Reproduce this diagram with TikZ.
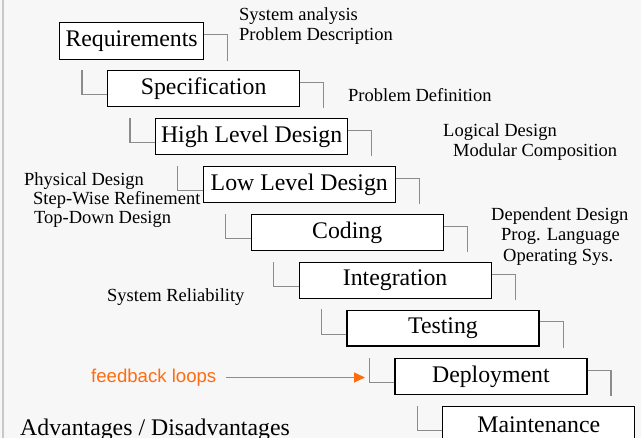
\documentclass[tikz,border=0pt]{standalone}
\usepackage{fontspec}
\setmainfont{Liberation Serif}
\newfontfamily\arialf{Liberation Sans}
\usetikzlibrary{arrows.meta}
\definecolor{bgc}{RGB}{247,247,247}
\definecolor{conngray}{RGB}{140,140,140}
\definecolor{fbor}{RGB}{255,108,16}
\definecolor{edgegray}{RGB}{200,200,200}
\begin{document}
\begin{tikzpicture}[x=1pt,y=-1pt,
  stage/.style={draw=black, line width=1.2pt, fill=white, minimum width=192pt,
    minimum height=36pt, inner sep=0pt, anchor=north west,
    font=\fontsize{23.8}{26}\selectfont},
  conn/.style={draw=conngray, line width=1.1pt},
  note/.style={anchor=base west, inner sep=0pt, font=\fontsize{18.5}{20}\selectfont},
  fbarrow/.style={draw=fbor, line width=1.4pt, -{Triangle[length=11pt,width=10pt]}}]
\useasboundingbox (0,0) rectangle (641,438);
\fill[bgc] (0,0) rectangle (641,438);
\clip (0,0) rectangle (641,438);
\draw[edgegray, line width=1.6pt] (3,0) -- (3,438);

% stages
\node[stage, minimum width=144pt, minimum height=37pt] (b1) at (59,22) {Requirements};
\node[stage] (b2) at (107,70) {Specification};
\node[stage] (b3) at (155,118) {High Level Design};
\node[stage] (b4) at (202.7,166) {Low Level Design};
\node[stage] (b5) at (250.6,214) {Coding};
\node[stage] (b6) at (298.5,262) {Integration};
\node[stage, minimum height=35.5pt] (b7) at (346.4,310) {Testing};
\node[stage] (b8) at (394.3,358) {Deployment};
\node[stage] (b9) at (442.2,406) {Maintenance};

% right brackets
\foreach \b in {b1,b2,b3,b4,b5,b6,b7,b8}{
  \draw[conn] ([yshift=6.5pt]\b.east) -- ++(23.5,0) -- ++(0,26);
}
% left brackets
\foreach \b in {b2,b3,b4,b5,b6,b7,b8,b9}{
  \draw[conn] ([yshift=-6pt]\b.west) -- ++(-25,0) -- ++(0,-25);
}

% notes
\node[note] (n1) at (239,21) {System analysis};
\node[note] (n2) at (239,41) {Problem Description};
\node[note] (n3) at (348,102) {Problem Definition};
\node[note] (n4) at (443,136.5) {Logical Design};
\node[note] (n5) at (453,156.5) {Modular Composition};
\node[note] (n6) at (24,185.5) {Physical Design};
\node[note] (n7) at (33,204.5) {Step-Wise Refinement};
\node[note] (n8) at (34,224) {Top-Down Design};
\node[note] (n9) at (491,220.5) {Dependent Design};
\node[note] (n10) at (501,241) {Prog. Language};
\node[note] (n11) at (503,261.5) {Operating Sys.};
\node[note] (n12) at (107,302) {System Reliability};

% feedback loops
\node[anchor=base west, inner sep=0pt, text=fbor, font=\arialf\fontsize{18.6}{20}\selectfont] (fb) at (91,382.3) {feedback loops};
\coordinate (fbend) at (365,377);
\draw[fbarrow] ([xshift=9pt]fb.east) -- (fbend |- fb.east);

% bottom title
\node[anchor=base west, inner sep=0pt, font=\fontsize{23.8}{26}\selectfont] (adv) at (20,435.5) {Advantages / Disadvantages};
\end{tikzpicture}
\end{document}
